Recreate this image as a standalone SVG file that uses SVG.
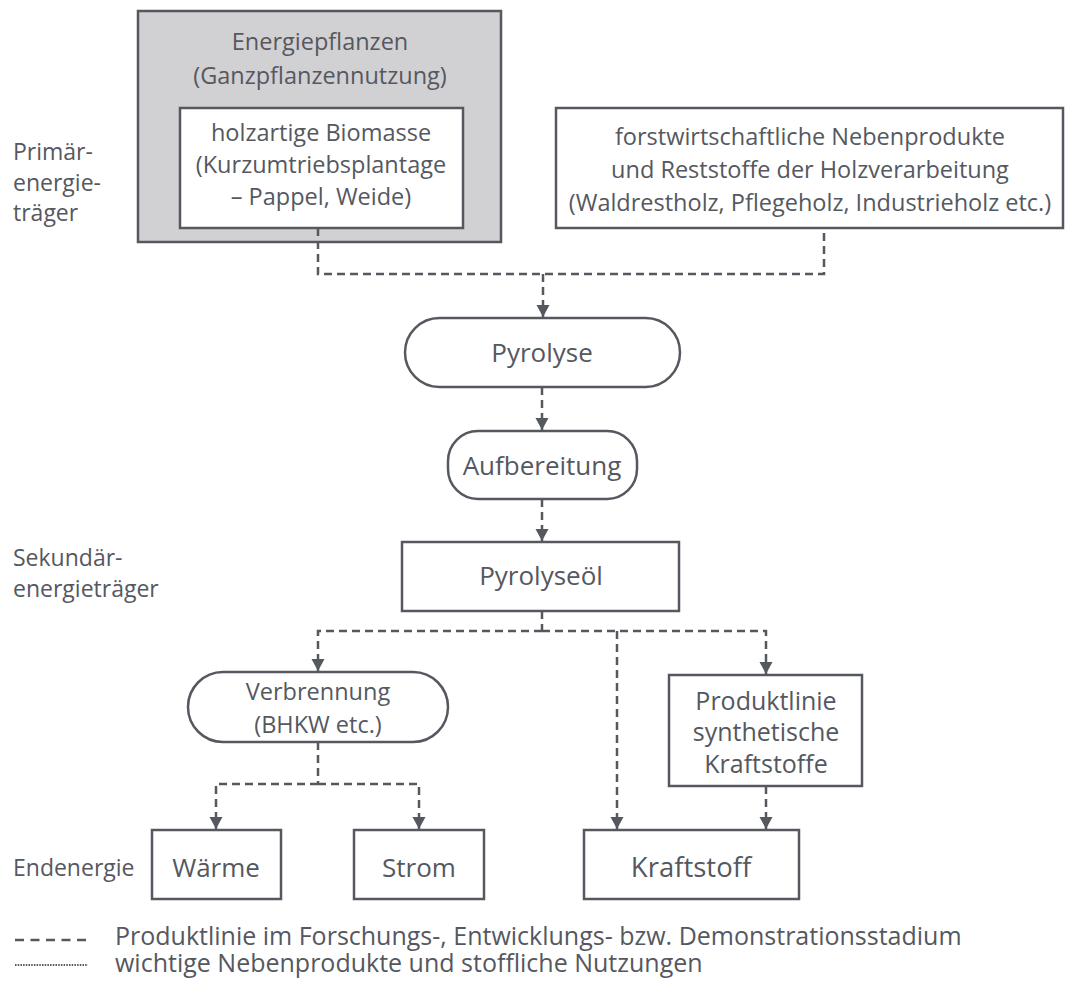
<svg xmlns="http://www.w3.org/2000/svg" width="1092" height="982" viewBox="0 0 1092 982">
<defs>
<marker id="arr" markerWidth="14" markerHeight="14" refX="12" refY="6.5" orient="auto" markerUnits="userSpaceOnUse">
<path d="M0,0 L12,6.5 L0,13 Z" fill="#55585f"/>
</marker>
<style>
text{font-family:"Open Sans","Noto Sans","Liberation Sans",sans-serif;font-size:23.5px;fill:#55585f;}
.c{text-anchor:middle;}
.l{font-size:23px;}
.p{font-size:25px;}
.m{font-size:26px;}
.e{font-size:26px;}
.k{font-size:27.5px;}
.g{font-size:25px;}
.box{fill:#fff;stroke:#55585f;stroke-width:2.5;}
.gray{fill:#d1d0d3;stroke:#55585f;stroke-width:2.5;}
.con{fill:none;stroke:#55585f;stroke-width:2.5;stroke-dasharray:8 5;}
.arr{fill:none;stroke:#55585f;stroke-width:2.5;stroke-dasharray:8 5;marker-end:url(#arr);}
</style>
</defs>
<rect width="1092" height="982" fill="#fff"/>

<g id="labels">
<text class="l" x="13" y="160">Primär-</text>
<text class="l" x="13" y="191">energie-</text>
<text class="l" x="13" y="221">träger</text>
<text class="l" x="13" y="566">Sekundär-</text>
<text class="l" x="13" y="597">energieträger</text>
<text class="l" x="13" y="876">Endenergie</text>
</g>

<g id="energiepflanzen">
<rect class="gray" x="138" y="11" width="363" height="231"/>
<text class="c" x="320" y="50">Energiepflanzen</text>
<text class="c" x="320" y="84">(Ganzpflanzennutzung)</text>
</g>
<g id="holzartige">
<rect class="box" x="180" y="108" width="283" height="120"/>
<text class="c" x="321" y="141">holzartige Biomasse</text>
<text class="c" x="321" y="173">(Kurzumtriebsplantage</text>
<text class="c" x="321" y="205">– Pappel, Weide)</text>
</g>
<g id="forst">
<rect class="box" x="556" y="108" width="507" height="120"/>
<text class="c" x="810" y="145">forstwirtschaftliche Nebenprodukte</text>
<text class="c" x="810" y="178">und Reststoffe der Holzverarbeitung</text>
<text class="c" x="810" y="211">(Waldrestholz, Pflegeholz, Industrieholz etc.)</text>
</g>
<g id="pyrolyse">
<rect class="box" x="405" y="318" width="275" height="69" rx="34.5"/>
<text class="c m" x="542" y="362">Pyrolyse</text>
</g>
<g id="aufbereitung">
<rect class="box" x="448" y="431" width="189" height="68" rx="30"/>
<text class="c m" x="542" y="475">Aufbereitung</text>
</g>
<g id="pyrolyseoel">
<rect class="box" x="402" y="542" width="277" height="69"/>
<text class="c m" x="541" y="585">Pyrolyseöl</text>
</g>
<g id="verbrennung">
<rect class="box" x="188" y="672" width="260" height="70" rx="35"/>
<text class="c" x="318" y="700">Verbrennung</text>
<text class="c" x="318" y="733">(BHKW etc.)</text>
</g>
<g id="produktlinie">
<rect class="box" x="669" y="675" width="193" height="111"/>
<text class="c p" x="766" y="710">Produktlinie</text>
<text class="c p" x="766" y="741">synthetische</text>
<text class="c p" x="766" y="773">Kraftstoffe</text>
</g>
<g id="waerme">
<rect class="box" x="152" y="830" width="129" height="69"/>
<text class="c e" x="216" y="877">Wärme</text>
</g>
<g id="strom">
<rect class="box" x="354" y="830" width="130" height="69"/>
<text class="c e" x="419" y="877">Strom</text>
</g>
<g id="kraftstoff">
<rect class="box" x="584" y="830" width="215" height="69"/>
<text class="c k" x="691" y="877">Kraftstoff</text>
</g>

<g id="connectors">
<path class="con" d="M318,228 V274 H824 V228"/>
<path class="arr" d="M543,274 V317"/>
<path class="arr" d="M542,387 V430"/>
<path class="arr" d="M542,499 V541"/>
<path class="con" d="M542,611 V631"/>
<path class="arr" d="M542,631 H318 V671"/>
<path class="arr" d="M542,631 H766 V674"/>
<path class="arr" d="M617,631 V829"/>
<path class="arr" d="M766,786 V829"/>
<path class="con" d="M318,742 V784"/>
<path class="arr" d="M318,784 H216 V829"/>
<path class="arr" d="M318,784 H419 V829"/>
</g>

<g id="legend">
<line x1="15" y1="940" x2="86" y2="940" stroke="#55585f" stroke-width="2.5" stroke-dasharray="9 6.5"/>
<line x1="15" y1="965" x2="88" y2="965" stroke="#55585f" stroke-width="2" stroke-dasharray="1.5 1.2"/>
<text class="g" x="115" y="945">Produktlinie im Forschungs-, Entwicklungs- bzw. Demonstrationsstadium</text>
<text class="g" x="115" y="972">wichtige Nebenprodukte und stoffliche Nutzungen</text>
</g>
</svg>
